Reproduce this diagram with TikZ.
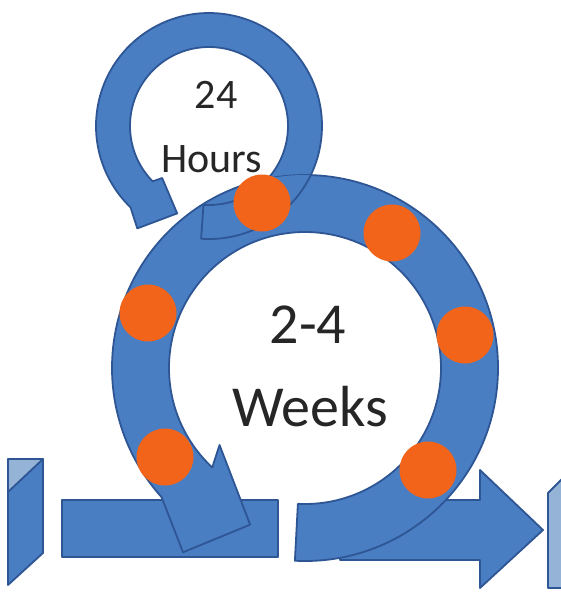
\documentclass[tikz,border=0pt]{standalone}
\usepackage{fontspec}
\setmainfont{Carlito}
\usepackage{tikz}
\usetikzlibrary{positioning}
\definecolor{ringblue}{HTML}{4A7EC3}
\definecolor{ringline}{HTML}{2E5594}
\definecolor{boxlight}{HTML}{95B3D7}
\definecolor{dotorange}{HTML}{F26419}
\newcommand{\bigtext}[1]{\fontsize{58}{58}\selectfont #1}
\newcommand{\smalltext}[1]{\fontsize{42}{42}\selectfont #1}

\begin{document}
\begin{tikzpicture}[x=1pt, y=1pt,
    bluepart/.style={fill=ringblue, draw=ringline, line width=1.8pt, line join=round},
    dot/.style={circle, fill=dotorange, minimum size=57pt, inner sep=0pt},
    label/.style={text=black!85, inner sep=0pt}]
                    \useasboundingbox (0,0) rectangle (561,-592);

                    \draw[bluepart] (8,-459) -- (43,-459) -- (43,-553) -- (8,-585) -- cycle;
                    \draw[bluepart, fill=boxlight] (8,-459) -- (43,-459) -- (8,-492) -- cycle;
                    \draw[bluepart] (62,-500) rectangle (278,-557);
                    \draw[bluepart] (340,-500) -- (480,-500) -- (480,-470) -- (543,-530)
                        -- (480,-588) -- (480,-560) -- (340,-560) -- cycle;
                    \draw[bluepart, fill=boxlight] (548,-493) -- (563,-478) -- (563,-588) -- (548,-588) -- cycle;

                    \begin{scope}[shift={(209,-126)}]
                        \draw[bluepart] (-94:113) arc[start angle=-94, end angle=226, radius=113]
                            -- (235:125) -- (250:93) -- (228:70) -- (224.5:79)
                            arc[start angle=224.5, end angle=-94, radius=79] -- cycle;
                    \end{scope}

                    \begin{scope}[shift={(305,-368)}]
                        \draw[bluepart] (-93:193) arc[start angle=-93, end angle=222, radius=193]
                            -- (236.5:221) -- (250.7:166) -- (222:115) -- (227:136)
                            arc[start angle=227, end angle=-93, radius=136] -- cycle;
                    \end{scope}

                    \begin{scope}
                        \clip (305,-368) circle[radius=193];
                        \begin{scope}[shift={(209,-126)}]
                            \draw[bluepart] (-94:113) arc[start angle=-94, end angle=10, radius=113]
                                -- (10:79) arc[start angle=10, end angle=-94, radius=79] -- cycle;
                        \end{scope}
                    \end{scope}

                    \foreach \x/\y [count=\i] in {262/203, 392/233, 148/313, 465/335, 165/457, 428/470}
                        \node[dot] (d\i) at (\x,-\y) {};

                    \node[label] (tf) at (216,-95) {\smalltext{24}};
                    \node[label] (hrs) at (212,-159) {\smalltext{Hours}};
                    \node[label] (two) at (308,-325) {\bigtext{2-4}};
                    \node[label] (wks) at (310,-407) {\bigtext{Weeks}};
                \end{tikzpicture}
\end{document}
